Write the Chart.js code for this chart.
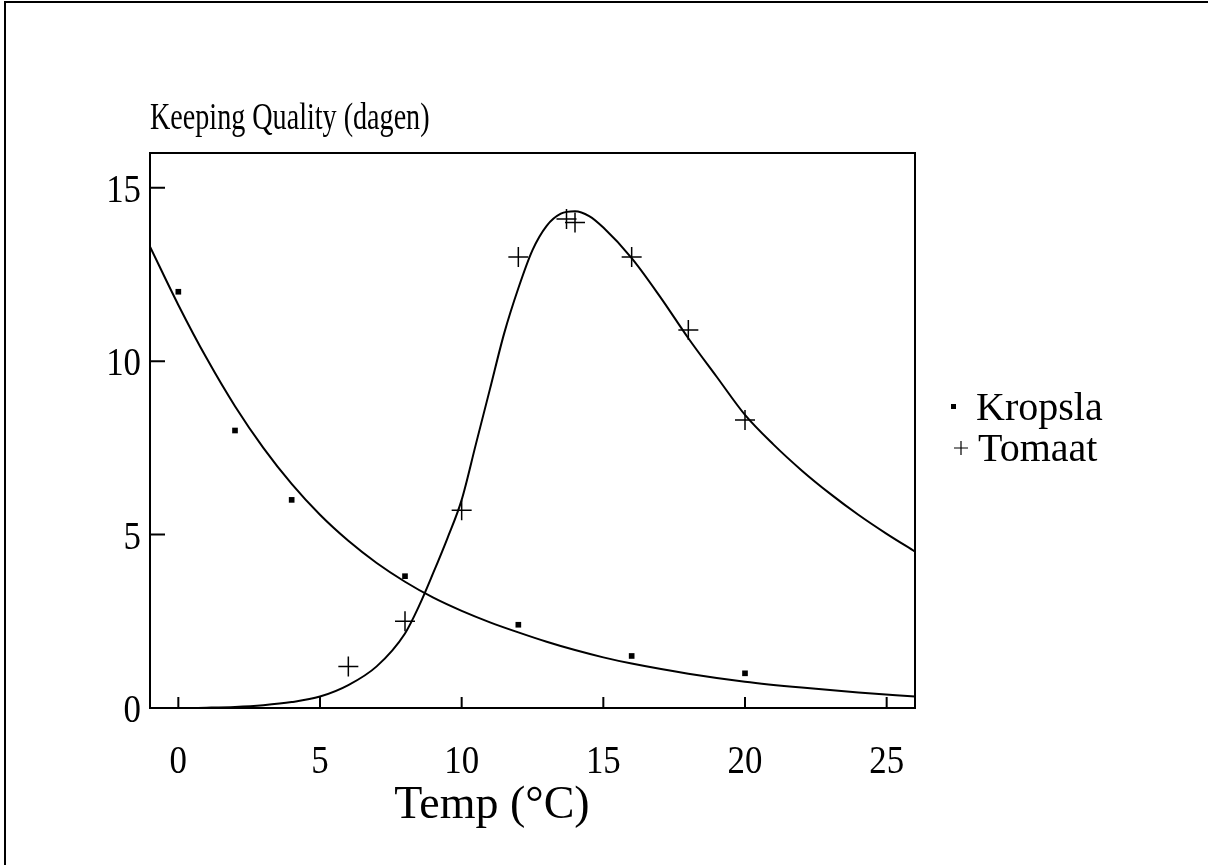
<!DOCTYPE html>
<html>
<head>
<meta charset="utf-8">
<script src="https://cdn.jsdelivr.net/npm/chart.js@4.4.1/dist/chart.umd.min.js"></script>
<style>
  html, body { margin: 0; padding: 0; background: #fff; }
  #wrap { width: 1208px; height: 865px; position: relative; }
</style>
</head>
<body>
<div id="wrap"><canvas id="chart" width="1208" height="865"></canvas></div>
<script>
// measured points
var kropslaTemp = [0, 2, 4, 8, 12, 16, 20];
var kropslaDays = [12, 8, 6, 3.8, 2.4, 1.5, 1.0];
var tomaatTemp = [6, 8, 10, 12, 13.7, 14, 16, 18, 20];
var tomaatDays = [1.2, 2.5, 5.7, 13, 14.1, 14, 13, 10.9, 8.3];

// fitted curves
var kropslaFitTemp = [-1, 0, 1, 2, 3, 4, 5, 6, 7, 8, 9, 10, 11, 12, 13, 14, 15, 16, 18, 20, 22, 24, 26];
var kropslaFitDays = [13.3, 11.62, 10.08, 8.7, 7.5, 6.46, 5.57, 4.82, 4.18, 3.64, 3.18, 2.8, 2.47, 2.18, 1.91, 1.67, 1.46, 1.28, 0.99, 0.76, 0.59, 0.45, 0.33];
var tomaatFitTemp = [-1, 0, 1, 2, 3, 4, 5, 6, 7, 8, 8.5, 9, 9.5, 10, 10.5, 11, 11.5, 12, 12.5, 13, 13.5, 14, 14.5, 15, 16, 17, 18, 19, 20, 21, 22, 23, 24, 25, 26];
var tomaatFitDays = [0, 0, 0.01, 0.03, 0.08, 0.17, 0.33, 0.66, 1.2, 2.15, 2.95, 3.9, 4.9, 6.0, 7.6, 9.2, 10.8, 12.1, 13.2, 13.9, 14.25, 14.32, 14.18, 13.85, 12.97, 11.86, 10.66, 9.55, 8.45, 7.6, 6.85, 6.18, 5.57, 5.02, 4.51];

var xTicks = [0, 5, 10, 15, 20, 25];
var yTicks = [0, 5, 10, 15];
var seriesNames = ['Kropsla', 'Tomaat'];

var FONT = '"Liberation Serif", "Times New Roman", serif';

function pairs(xs, ys) {
    return xs.map(function(x, i) { return {x: x, y: ys[i]}; });
}

function drawText(ctx, txt, x, y, size, align, sx) {
    ctx.save();
    ctx.font = size + 'px ' + FONT;
    ctx.fillStyle = '#000';
    ctx.textBaseline = 'alphabetic';
    ctx.translate(x, y);
    ctx.scale(sx, 1);
    var w = ctx.measureText(txt).width;
    var dx = 0;
    if (align === 'center') dx = -w / 2;
    if (align === 'right') dx = -w;
    ctx.fillText(txt, dx, 0);
    ctx.restore();
}

var decorPlugin = {
    id: 'decor',
    afterDraw: function(chart) {
        var ctx = chart.ctx;
        var a = chart.chartArea;
        var xs = chart.scales.x, ys = chart.scales.y;
        ctx.save();
        ctx.strokeStyle = '#000';
        ctx.lineWidth = 2;
        // plot frame
        ctx.strokeRect(a.left, a.top, a.right - a.left, a.bottom - a.top);
        // inward ticks
        ctx.beginPath();
        xs.ticks.forEach(function(t) {
            var px = xs.getPixelForValue(t.value);
            ctx.moveTo(px, a.bottom);
            ctx.lineTo(px, a.bottom - 11);
        });
        ys.ticks.forEach(function(t) {
            var py = ys.getPixelForValue(t.value);
            ctx.moveTo(a.left, py);
            ctx.lineTo(a.left + 15, py);
        });
        ctx.stroke();
        // outer page frame (left and top)
        ctx.beginPath();
        ctx.moveTo(5, 865);
        ctx.lineTo(5, 2);
        ctx.lineTo(1208, 2);
        ctx.stroke();
        ctx.restore();

        // tick labels
        xs.ticks.forEach(function(t) {
            drawText(ctx, String(t.value), xs.getPixelForValue(t.value), 773, 41, 'center', 0.85);
        });
        ys.ticks.forEach(function(t) {
            drawText(ctx, String(t.value), 141, ys.getPixelForValue(t.value) + 14, 41, 'right', 0.85);
        });

        // titles
        drawText(ctx, 'Keeping Quality (dagen)', 150, 129, 38, 'left', 0.74);
        drawText(ctx, 'Temp (\u00B0C)', 492, 818, 46, 'center', 1);

        // legend
        ctx.save();
        ctx.fillStyle = '#000';
        ctx.fillRect(951, 404, 5, 5);
        ctx.lineWidth = 1.2;
        ctx.beginPath();
        ctx.moveTo(954, 448); ctx.lineTo(968, 448);
        ctx.moveTo(961, 441); ctx.lineTo(961, 455);
        ctx.stroke();
        ctx.restore();
        drawText(ctx, seriesNames[0], 976, 420, 40, 'left', 1);
        drawText(ctx, seriesNames[1], 978, 461, 40, 'left', 1);
    }
};

var ctx = document.getElementById('chart').getContext('2d');
new Chart(ctx, {
    type: 'scatter',
    data: {
        datasets: [
            {
                label: 'Kropsla fit',
                data: pairs(kropslaFitTemp, kropslaFitDays),
                showLine: true,
                borderColor: '#000',
                borderWidth: 2,
                pointRadius: 0,
                cubicInterpolationMode: 'monotone'
            },
            {
                label: 'Tomaat fit',
                data: pairs(tomaatFitTemp, tomaatFitDays),
                showLine: true,
                borderColor: '#000',
                borderWidth: 2,
                pointRadius: 0,
                cubicInterpolationMode: 'monotone'
            },
            {
                label: seriesNames[0],
                data: pairs(kropslaTemp, kropslaDays),
                pointStyle: 'rect',
                pointRadius: 4,
                backgroundColor: '#000',
                borderColor: '#000',
                borderWidth: 0
            },
            {
                label: seriesNames[1],
                data: pairs(tomaatTemp, tomaatDays),
                pointStyle: 'cross',
                pointRadius: 10,
                borderColor: '#000',
                borderWidth: 1.5
            }
        ]
    },
    options: {
        responsive: false,
        animation: false,
        layout: {
            padding: {left: 150, right: 293, top: 153, bottom: 157}
        },
        plugins: {
            legend: {display: false},
            tooltip: {enabled: false}
        },
        scales: {
            x: {
                type: 'linear',
                min: -1,
                max: 26,
                grid: {display: false, drawTicks: false},
                border: {display: false},
                ticks: {display: false},
                afterBuildTicks: function(scale) {
                    scale.ticks = xTicks.map(function(v) { return {value: v}; });
                },
                afterFit: function(scale) { scale.height = 0; }
            },
            y: {
                type: 'linear',
                min: 0,
                max: 16,
                grid: {display: false, drawTicks: false},
                border: {display: false},
                ticks: {display: false},
                afterBuildTicks: function(scale) {
                    scale.ticks = yTicks.map(function(v) { return {value: v}; });
                },
                afterFit: function(scale) { scale.width = 0; }
            }
        }
    },
    plugins: [decorPlugin]
});
</script>
</body>
</html>
